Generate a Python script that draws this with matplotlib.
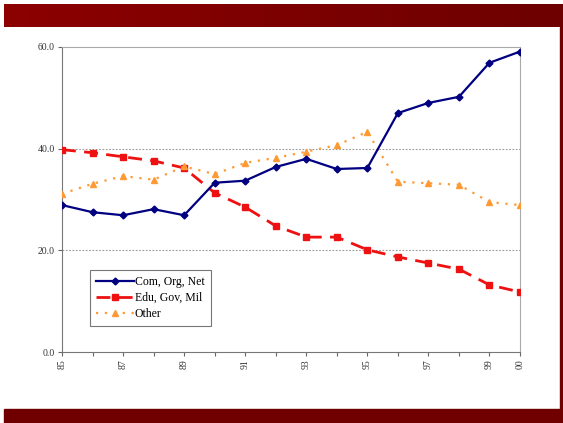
import matplotlib
matplotlib.use("Agg")
import matplotlib.pyplot as plt
import numpy as np
from matplotlib.patches import Rectangle

years = ["85", "86", "87", "88", "89", "90", "91", "92",
         "93", "94", "95", "96", "97", "98", "99", "00"]
com_org_net = [28.9, 27.5, 26.9, 28.1, 26.9, 33.3, 33.7, 36.4,
               38.0, 36.0, 36.2, 47.0, 49.0, 50.2, 56.9, 59.1]
edu_gov_mil = [39.8, 39.2, 38.4, 37.6, 36.2, 31.3, 28.5, 24.8,
               22.6, 22.6, 20.1, 18.7, 17.5, 16.3, 13.2, 11.8]
other = [31.1, 33.1, 34.6, 33.9, 36.5, 35.0, 37.2, 38.2,
         39.4, 40.7, 43.3, 33.5, 33.2, 32.9, 29.5, 28.9]
labelled_years = ["85", "87", "89", "91", "93", "95", "97", "99", "00"]
y_ticks = [0, 20, 40, 60]

fig = plt.figure(figsize=(5.63, 4.23), dpi=100)
fig.patch.set_facecolor("white")

# Slide frame: gradient title band, right rule and footer band
band = fig.add_axes([4 / 563, 1 - 27 / 423, 559 / 563, 23 / 423])
grad = np.linspace(0, 1, 256)[None, :, None]
c0 = np.array([0.55, 0.0, 0.0])
c1 = np.array([0.43, 0.0, 0.0])
band.imshow(c0 + (c1 - c0) * grad, aspect="auto", extent=[0, 1, 0, 1])
band.set_axis_off()
fig.patches.append(Rectangle((560 / 563, 14 / 423), 3 / 563, 382 / 423,
                             transform=fig.transFigure, color="#700000", zorder=0))
fig.patches.append(Rectangle((4 / 563, 0), 559 / 563, 14 / 423,
                             transform=fig.transFigure, color="#700000", zorder=0))

ax = fig.add_axes([62 / 563, 1 - 352 / 423, 458 / 563, 305 / 423])
x = np.arange(len(years))

ax.plot(x, com_org_net, color="#000080", lw=1.6, marker="D", ms=3.5,
        label="Com, Org, Net", zorder=4)
ax.plot(x, edu_gov_mil, color="#EE1111", lw=2.0, ls=(0, (5, 3)), marker="s",
        ms=5, label="Edu, Gov, Mil", zorder=3)
ax.plot(x, other, color="#FF9933", lw=1.6, ls=(0, (1, 3)), marker="^",
        ms=5, label="Other", zorder=3)

ax.set_xlim(0, len(years) - 1)
ax.set_ylim(0, 60)
ax.set_yticks(y_ticks)
ax.set_yticklabels([f"{v:.1f}" for v in y_ticks], fontsize=7,
                   family="Liberation Serif", color="#333333")
for v in (20, 40):
    ax.axhline(v, color="#999999", lw=0.8, ls=(0, (1.5, 1.5)), zorder=1)

ax.set_xticks(x, minor=False)
ax.set_xticklabels([""] * len(years))
pos = [years.index(l) if l != "00" else len(years) - 1 for l in labelled_years]
for p, lab in zip(pos, labelled_years):
    ax.text(p, -1.5, lab, rotation=90, ha="center", va="top", fontsize=7,
            family="Liberation Serif", color="#333333")

ax.tick_params(axis="x", direction="out", length=3, color="#666666")
ax.tick_params(axis="y", direction="out", length=3, color="#666666", pad=2)
for s in ("left", "bottom"):
    ax.spines[s].set_color("#777777")
    ax.spines[s].set_linewidth(0.8)
for s in ("top", "right"):
    ax.spines[s].set_color("#aaaaaa")
    ax.spines[s].set_linewidth(0.8)

leg = ax.legend(loc="upper left", bbox_to_anchor=(28 / 458, 1 - 223 / 305),
                prop={"family": "Liberation Serif", "size": 8.5},
                frameon=True, fancybox=False, edgecolor="#555555",
                handlelength=3.2, borderpad=0.5, labelspacing=0.35,
                handletextpad=0.1, borderaxespad=0)
leg.get_frame().set_linewidth(0.8)

fig.savefig("out.png", dpi=100)
